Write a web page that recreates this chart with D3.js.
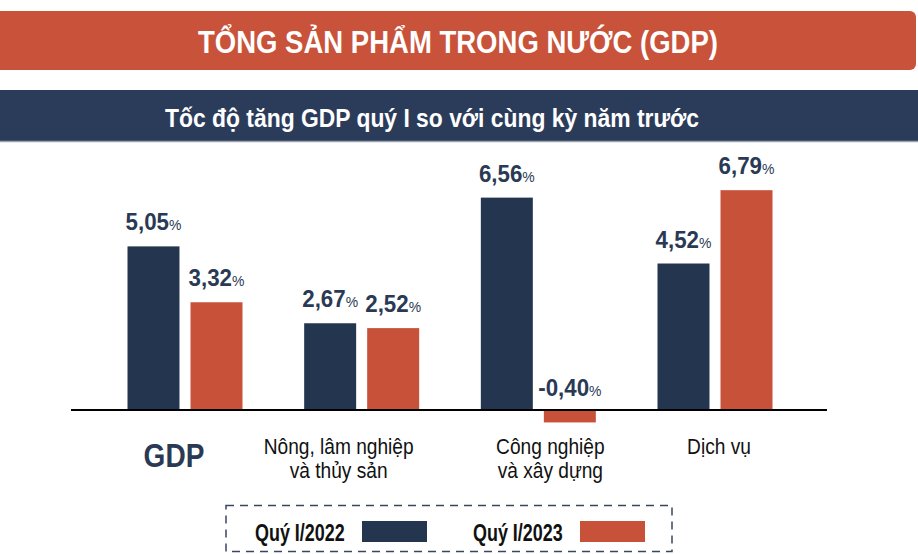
<!DOCTYPE html>
<html>
<head>
<meta charset="utf-8">
<script src="https://cdn.jsdelivr.net/npm/d3@7"></script>
<style>
  html, body { margin: 0; padding: 0; background: #fff; }
  svg { display: block; font-family: "Liberation Sans", Arial, sans-serif; }
</style>
</head>
<body>
<script>
// data
var categories = ["GDP", "Nông, lâm nghiệp|và thủy sản", "Công nghiệp|và xây dựng", "Dịch vụ"];
var seriesNames = ["Quý I/2022", "Quý I/2023"];
var q2022 = [5.05, 2.67, 6.56, 4.52];
var q2023 = [3.32, 2.52, -0.40, 6.79];
var titleText = "TỔNG SẢN PHẨM TRONG NƯỚC (GDP)";
var subtitleText = "Tốc độ tăng GDP quý I so với cùng kỳ năm trước";

var width = 918, height = 554;
var navy = "#24364f", orange = "#c8513a";
var colors = [navy, orange];

var vn = d3.formatLocale({ decimal: ",", thousands: ".", grouping: [3], currency: ["", ""], minus: "-" });
var fmt = vn.format(".2f");

var svg = d3.select("body").append("svg")
    .attr("width", width)
    .attr("height", height);

// text is a bit condensed in the picture, squeeze it horizontally
function put(sel, x, y, sx) {
    return sel.attr("transform", "translate(" + x + "," + y + ") scale(" + sx + ",1)");
}

// header banners
svg.append("rect")
    .attr("x", -6).attr("y", 11)
    .attr("width", 922).attr("height", 59)
    .attr("rx", 6)
    .attr("fill", "#c9523a");

put(svg.append("text"), 458, 53, 0.86)
    .attr("text-anchor", "middle")
    .attr("font-size", 32)
    .attr("font-weight", "bold")
    .attr("fill", "#fff")
    .text(titleText);

svg.append("rect")
    .attr("x", 0).attr("y", 90)
    .attr("width", width).attr("height", 51)
    .attr("fill", "#2b3c5a");
svg.append("line")
    .attr("x1", 0).attr("x2", width)
    .attr("y1", 141.5).attr("y2", 141.5)
    .attr("stroke", "#9aa3b2").attr("stroke-width", 1.5);

put(svg.append("text"), 432, 127, 0.88)
    .attr("text-anchor", "middle")
    .attr("font-size", 26)
    .attr("font-weight", "bold")
    .attr("fill", "#fff")
    .text(subtitleText);

// scales
var x = d3.scalePoint()
    .domain(categories)
    .range([185, 715]);

var xs = d3.scaleBand()
    .domain(seriesNames)
    .range([-57.5, 57.5])
    .paddingInner(0.175);

var y = d3.scaleLinear()
    .domain([0, 7])
    .range([409.5, 183.4]);

var rows = [];
categories.forEach(function (c, i) {
    rows.push({ cat: c, s: seriesNames[0], v: q2022[i], k: 0 });
    rows.push({ cat: c, s: seriesNames[1], v: q2023[i], k: 1 });
});

// bars
svg.append("g").selectAll("rect")
    .data(rows)
    .join("rect")
    .attr("x", d => x(d.cat) + xs(d.s))
    .attr("width", xs.bandwidth())
    .attr("y", d => y(Math.max(0, d.v)))
    .attr("height", d => Math.abs(y(d.v) - y(0)))
    .attr("fill", d => colors[d.k]);

// zero line
svg.append("line")
    .attr("x1", 71).attr("x2", 827)
    .attr("y1", y(0) + 0.5).attr("y2", y(0) + 0.5)
    .attr("stroke", "#000")
    .attr("stroke-width", 2);

// value labels
var lab = svg.append("g").selectAll("text")
    .data(rows)
    .join("text")
    .attr("text-anchor", "middle")
    .attr("fill", "#2a3a55")
    .each(function (d) {
        var ly = d.v >= 0 ? y(d.v) - 16 : y(0) - 14;
        put(d3.select(this), x(d.cat) + xs(d.s) + xs.bandwidth() / 2, ly, 0.93);
    });
lab.append("tspan")
    .attr("font-size", 24)
    .attr("font-weight", "bold")
    .text(d => fmt(d.v));
lab.append("tspan")
    .attr("font-size", 15)
    .text("%");

// category labels
var catDx = [-11, -23, 12, 4];
var cl = svg.append("g").selectAll("text")
    .data(categories)
    .join("text")
    .attr("text-anchor", "middle")
    .each(function (d, i) {
        var t = d3.select(this);
        if (i === 0) {
            put(t, x(d) + catDx[i], 467, 0.85)
                .attr("font-size", 33)
                .attr("font-weight", "bold")
                .attr("fill", "#2a3a55");
        } else {
            put(t, x(d) + catDx[i], 454, 0.89)
                .attr("font-size", 21.5)
                .attr("fill", "#111");
        }
    });
cl.selectAll("tspan")
    .data(d => d.split("|"))
    .join("tspan")
    .attr("x", 0)
    .attr("dy", (d, j) => j === 0 ? 0 : 24)
    .text(d => d);

// legend
svg.append("rect")
    .attr("x", 226).attr("y", 505.5)
    .attr("width", 446).attr("height", 46)
    .attr("fill", "none")
    .attr("stroke", "#3a4660")
    .attr("stroke-width", 1.5)
    .attr("stroke-dasharray", "8,6");

var legX = [255, 473];
var leg = svg.append("g").selectAll("g")
    .data(seriesNames)
    .join("g");
leg.append("text")
    .attr("font-size", 23)
    .attr("font-weight", "bold")
    .attr("fill", "#111")
    .each(function (d, i) { put(d3.select(this), legX[i], 540.5, 0.78); })
    .text(d => d);
leg.append("rect")
    .attr("x", (d, i) => legX[i] + 107)
    .attr("y", 521)
    .attr("width", 65)
    .attr("height", 21)
    .attr("fill", (d, i) => colors[i]);
</script>
</body>
</html>
